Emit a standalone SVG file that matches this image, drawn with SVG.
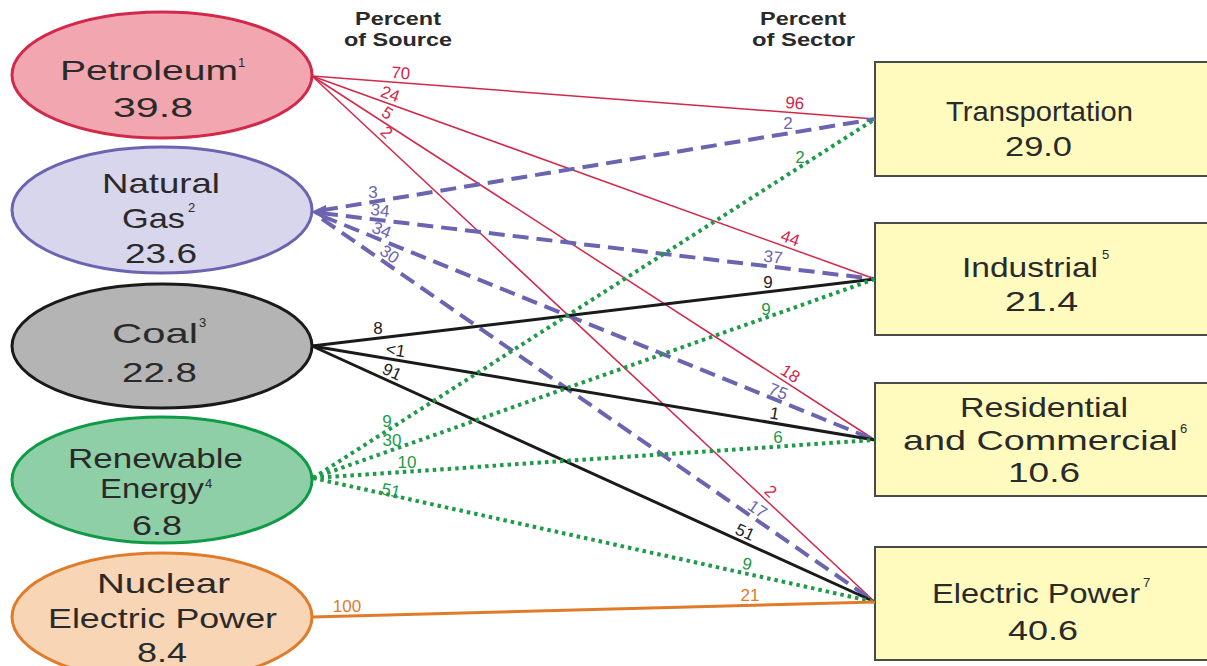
<svg xmlns="http://www.w3.org/2000/svg" width="1207" height="666" viewBox="0 0 1207 666">
<style>
.big{font-family:"Liberation Sans",Arial,sans-serif;font-size:28px;fill:#2a2a2a}
.sup{font-family:"Liberation Sans",Arial,sans-serif;font-size:13px;fill:#2a2a2a}
.hdr{font-family:"Liberation Sans",Arial,sans-serif;font-size:18px;font-weight:bold;fill:#2a2a2a}
.lbl{font-family:"Liberation Sans",Arial,sans-serif;font-size:17px;text-anchor:middle}
.box{fill:#fffbbf;stroke:#4a4a4a;stroke-width:2}
.pet{stroke:#d2284a;stroke-width:1.5;fill:none}
.gas{stroke:#6b64b0;stroke-width:4;stroke-dasharray:16 8;fill:none}
.coal{stroke:#1a1a1a;stroke-width:3;fill:none}
.ren{stroke:#1f9a4a;stroke-width:4;stroke-dasharray:3.5 4;fill:none}
.nuc{stroke:#e07b2a;stroke-width:3;fill:none}
.lp{fill:#d2284a}.lg{fill:#6b64b0}.lc{fill:#222}.lr{fill:#1f9a4a}.ln{fill:#e07b2a}
</style>
<rect width="1207" height="666" fill="#ffffff"/>
<g id="headers">
<text class="hdr" x="355" y="25" textLength="86" lengthAdjust="spacingAndGlyphs">Percent</text>
<text class="hdr" x="344" y="46" textLength="108" lengthAdjust="spacingAndGlyphs">of Source</text>
<text class="hdr" x="760" y="25" textLength="86" lengthAdjust="spacingAndGlyphs">Percent</text>
<text class="hdr" x="752" y="46" textLength="103" lengthAdjust="spacingAndGlyphs">of Sector</text>
</g>
<g id="petroleum">
<ellipse cx="162" cy="75" rx="150" ry="63" fill="#f2a7b0" stroke="#d2284a" stroke-width="3"/>
<text class="big" x="60" y="80" textLength="178" lengthAdjust="spacingAndGlyphs">Petroleum</text>
<text class="sup" x="238" y="67">1</text>
<text class="big" x="113" y="117" textLength="80" lengthAdjust="spacingAndGlyphs">39.8</text>
</g>
<g id="natural-gas">
<ellipse cx="162" cy="210" rx="150" ry="63" fill="#d8d6ec" stroke="#6b64b0" stroke-width="3"/>
<text class="big" x="102" y="193" textLength="118" lengthAdjust="spacingAndGlyphs">Natural</text>
<text class="big" x="122" y="228" textLength="63" lengthAdjust="spacingAndGlyphs">Gas</text>
<text class="sup" x="188" y="212">2</text>
<text class="big" x="125" y="263" textLength="72" lengthAdjust="spacingAndGlyphs">23.6</text>
</g>
<g id="coal">
<ellipse cx="162" cy="346" rx="150" ry="62" fill="#b4b4b4" stroke="#1a1a1a" stroke-width="3"/>
<text class="big" x="112" y="343" textLength="86" lengthAdjust="spacingAndGlyphs">Coal</text>
<text class="sup" x="199" y="327">3</text>
<text class="big" x="122" y="382" textLength="75" lengthAdjust="spacingAndGlyphs">22.8</text>
</g>
<g id="renewable">
<ellipse cx="162" cy="480" rx="150" ry="63" fill="#8fcfa8" stroke="#0f9a45" stroke-width="3"/>
<text class="big" x="68" y="468" textLength="175" lengthAdjust="spacingAndGlyphs">Renewable</text>
<text class="big" x="100" y="498" textLength="104" lengthAdjust="spacingAndGlyphs">Energy</text>
<text class="sup" x="205" y="488">4</text>
<text class="big" x="132" y="535" textLength="50" lengthAdjust="spacingAndGlyphs">6.8</text>
</g>
<g id="nuclear">
<ellipse cx="162" cy="617" rx="150" ry="64" fill="#f8d5b5" stroke="#e07b2a" stroke-width="3"/>
<text class="big" x="97" y="593" textLength="133" lengthAdjust="spacingAndGlyphs">Nuclear</text>
<text class="big" x="48" y="628" textLength="229" lengthAdjust="spacingAndGlyphs">Electric Power</text>
<text class="big" x="137" y="662" textLength="50" lengthAdjust="spacingAndGlyphs">8.4</text>
</g>
<g id="transportation">
<rect class="box" x="875" y="62" width="345" height="114"/>
<text class="big" x="946" y="121" textLength="187" lengthAdjust="spacingAndGlyphs">Transportation</text>
<text class="big" x="1005" y="156" textLength="67" lengthAdjust="spacingAndGlyphs">29.0</text>
</g>
<g id="industrial">
<rect class="box" x="875" y="223" width="345" height="112"/>
<text class="big" x="962" y="277" textLength="136" lengthAdjust="spacingAndGlyphs">Industrial</text>
<text class="sup" x="1102" y="259">5</text>
<text class="big" x="1005" y="311" textLength="73" lengthAdjust="spacingAndGlyphs">21.4</text>
</g>
<g id="residential">
<rect class="box" x="875" y="383" width="345" height="113"/>
<text class="big" x="960" y="417" textLength="168" lengthAdjust="spacingAndGlyphs">Residential</text>
<text class="big" x="903" y="450" textLength="275" lengthAdjust="spacingAndGlyphs">and Commercial</text>
<text class="sup" x="1180" y="433">6</text>
<text class="big" x="1008" y="482" textLength="72" lengthAdjust="spacingAndGlyphs">10.6</text>
</g>
<g id="electric-power">
<rect class="box" x="875" y="547" width="345" height="113"/>
<text class="big" x="932" y="603" textLength="208" lengthAdjust="spacingAndGlyphs">Electric Power</text>
<text class="sup" x="1143" y="587">7</text>
<text class="big" x="1008" y="640" textLength="70" lengthAdjust="spacingAndGlyphs">40.6</text>
</g>
<g id="connectors">
<line class="pet" x1="312" y1="76" x2="875" y2="119"/>
<line class="pet" x1="312" y1="76" x2="875" y2="279"/>
<line class="pet" x1="312" y1="76" x2="875" y2="440"/>
<line class="pet" x1="312" y1="76" x2="875" y2="602"/>
<line class="gas" x1="322" y1="210.3" x2="875" y2="119"/>
<line class="gas" x1="322" y1="213.2" x2="875" y2="279"/>
<line class="gas" x1="322" y1="216" x2="875" y2="440"/>
<line class="gas" x1="322" y1="218.9" x2="875" y2="602"/>
<polygon points="311,212 326,205 326,220" fill="#6b64b0"/>
<line class="coal" x1="312" y1="346" x2="875" y2="279"/>
<line class="coal" x1="312" y1="346" x2="875" y2="440"/>
<line class="coal" x1="312" y1="346" x2="875" y2="602"/>
<line class="ren" x1="313" y1="478" x2="875" y2="119"/>
<line class="ren" x1="313" y1="478" x2="875" y2="279"/>
<line class="ren" x1="313" y1="478" x2="875" y2="440"/>
<line class="ren" x1="313" y1="478" x2="875" y2="602"/>
<line class="nuc" x1="312" y1="617" x2="875" y2="602"/>
<g id="labels">
<text class="lbl lp" transform="translate(400,82.7) rotate(4.4)" y="-4">70</text>
<text class="lbl lp" transform="translate(794,112.8) rotate(4.4)" y="-4">96</text>
<text class="lbl lp" transform="translate(387,103.1) rotate(19.8)" y="-4">24</text>
<text class="lbl lp" transform="translate(787,247.2) rotate(19.8)" y="-4">44</text>
<text class="lbl lp" transform="translate(382,121.3) rotate(32.9)" y="-4">5</text>
<text class="lbl lp" transform="translate(785,381.8) rotate(32.9)" y="-4">18</text>
<text class="lbl lp" transform="translate(380,139.5) rotate(43.1)" y="-4">2</text>
<text class="lbl lp" transform="translate(764,498.4) rotate(43.1)" y="-4">2</text>
<text class="lbl lg" transform="translate(373,201.9)" y="-4">3</text>
<text class="lbl lg" transform="translate(788,133.4)" y="-4">2</text>
<text class="lbl lg" transform="translate(379,219.9) rotate(6.8)" y="-4">34</text>
<text class="lbl lg" transform="translate(772,266.7) rotate(6.8)" y="-4">37</text>
<text class="lbl lg" transform="translate(378,238.9) rotate(22)" y="-4">34</text>
<text class="lbl lg" transform="translate(775,399.5) rotate(22)" y="-3">75</text>
<text class="lbl lg" transform="translate(384,262.2) rotate(34.7)" y="-4">30</text>
<text class="lbl lg" transform="translate(752,517.1) rotate(34.7)" y="-4">17</text>
<text class="lbl lc" transform="translate(378,338.1)" y="-4">8</text>
<text class="lbl lc" transform="translate(768,291.7)" y="-4">9</text>
<text class="lbl lc" transform="translate(394,359.7) rotate(9.5)" y="-4">&lt;1</text>
<text class="lbl lc" transform="translate(773,423) rotate(9.5)" y="-4">1</text>
<text class="lbl lc" transform="translate(388,380.6) rotate(24.4)" y="-4">91</text>
<text class="lbl lc" transform="translate(741,541) rotate(24.4)" y="-4">51</text>
<text class="lbl lr" transform="translate(387,430.7)" y="-4">9</text>
<text class="lbl lr" transform="translate(800,166.9)" y="-4">2</text>
<text class="lbl lr" transform="translate(392,450)" y="-4">30</text>
<text class="lbl lr" transform="translate(766,317.6)" y="-3">9</text>
<text class="lbl lr" transform="translate(407,471.6)" y="-4">10</text>
<text class="lbl lr" transform="translate(778,446.6)" y="-4">6</text>
<text class="lbl lr" transform="translate(390,495) rotate(12.4)" y="1">51</text>
<text class="lbl lr" transform="translate(745,573.3) rotate(12.4)" y="-4">9</text>
<text class="lbl ln" transform="translate(347,616)" y="-4">100</text>
<text class="lbl ln" transform="translate(750,605.3)" y="-4">21</text>
</g>
</g>
</svg>
